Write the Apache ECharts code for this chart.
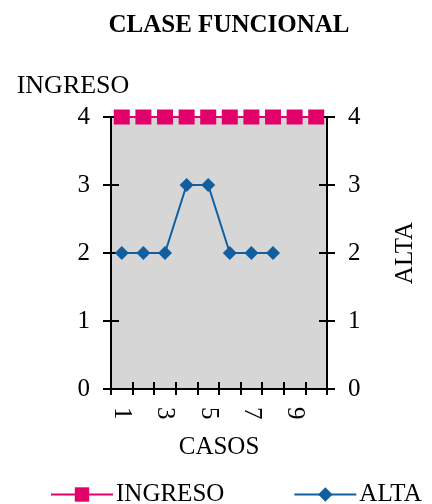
<!DOCTYPE html>
<html>
<head>
<meta charset="utf-8">
<script src="https://cdn.jsdelivr.net/npm/echarts@6/dist/echarts.min.js"></script>
<style>
  html, body { margin: 0; padding: 0; background: #ffffff; }
  #chart { width: 432px; height: 504px; }
</style>
</head>
<body>
<div id="chart"></div>
<script>
// Case numbers along the x axis
const casos = ['1', '2', '3', '4', '5', '6', '7', '8', '9', '10'];
// Functional class at admission (left axis) and at discharge (right axis)
const ingreso = [4, 4, 4, 4, 4, 4, 4, 4, 4, 4];
const alta = [2, 2, 2, 3, 3, 2, 2, 2];
// Shared value-axis ticks
const yMin = 0, yMax = 4, yStep = 1;

const FONT = '"Liberation Serif", "DejaVu Serif", serif';
const PINK = '#e2006b';
const BLUE = '#115f9f';

const chart = echarts.init(document.getElementById('chart'), null, { renderer: 'canvas' });

const tickStyle = { color: '#000', width: 2 };

function valueAxis(pos, inside, withLabels, extra) {
  return Object.assign({
    type: 'value',
    position: pos,
    min: yMin, max: yMax, interval: yStep,
    splitLine: { show: false },
    axisLine: { show: withLabels, lineStyle: { color: '#000', width: 2 } },
    axisTick: { show: true, inside: inside, length: 8, lineStyle: tickStyle },
    axisLabel: {
      show: withLabels, color: '#000', fontFamily: FONT, fontSize: 25,
      margin: 21
    }
  }, extra || {});
}

chart.setOption({
  animation: false,
  backgroundColor: '#ffffff',
  title: {
    text: 'CLASE FUNCIONAL',
    left: 224, top: 8, textAlign: 'center',
    textStyle: { fontFamily: FONT, fontWeight: 'bold', fontSize: 25, color: '#000' }
  },
  grid: {
    left: 111, right: 105, top: 117, bottom: 115,
    show: true, backgroundColor: '#d6d6d6', borderWidth: 0
  },
  xAxis: [
    {
      type: 'category', data: casos, position: 'bottom',
      name: 'CASOS', nameLocation: 'middle', nameGap: 46,
      nameTextStyle: { fontFamily: FONT, fontSize: 25, color: '#000' },
      axisLine: { lineStyle: { color: '#000', width: 2 } },
      axisTick: { show: true, inside: false, length: 6, interval: 0, lineStyle: tickStyle },
      axisLabel: {
        interval: 1, rotate: -90, color: '#000', fontFamily: FONT, fontSize: 25, margin: 18
      }
    },
    {
      type: 'category', data: casos, position: 'bottom',
      axisLine: { show: false },
      axisTick: { show: true, inside: true, length: 7, interval: 0, lineStyle: tickStyle },
      axisLabel: { show: false }
    }
  ],
  yAxis: [
    valueAxis('left', false, true, {
      name: 'INGRESO', nameLocation: 'end', nameGap: 18,
      nameTextStyle: { fontFamily: FONT, fontSize: 26, color: '#000', align: 'center', padding: [0, 76, 0, 0] }
    }),
    valueAxis('left', true, false),
    valueAxis('right', false, true, {
      name: 'ALTA', nameLocation: 'middle', nameRotate: 90, nameGap: 66,
      nameTextStyle: { fontFamily: FONT, fontSize: 25, color: '#000' }
    }),
    valueAxis('right', true, false)
  ],
  legend: {
    left: 45, top: 477,
    itemWidth: 62, itemHeight: 18, itemGap: 69,
    textStyle: { fontFamily: FONT, fontSize: 25, color: '#000', padding: [0, 0, 0, -2] },
    data: ['INGRESO', 'ALTA']
  },
  series: [
    {
      name: 'INGRESO', type: 'line', xAxisIndex: 0, yAxisIndex: 0,
      data: ingreso,
      symbol: 'rect', symbolSize: [16, 15], showAllSymbol: true,
      lineStyle: { color: PINK, width: 2 },
      itemStyle: { color: PINK },
      z: 3
    },
    {
      name: 'ALTA', type: 'line', xAxisIndex: 0, yAxisIndex: 2,
      data: alta,
      symbol: 'diamond', symbolSize: [14, 14], showAllSymbol: true,
      lineStyle: { color: BLUE, width: 2 },
      itemStyle: { color: BLUE },
      z: 4
    }
  ]
});
</script>
</body>
</html>
